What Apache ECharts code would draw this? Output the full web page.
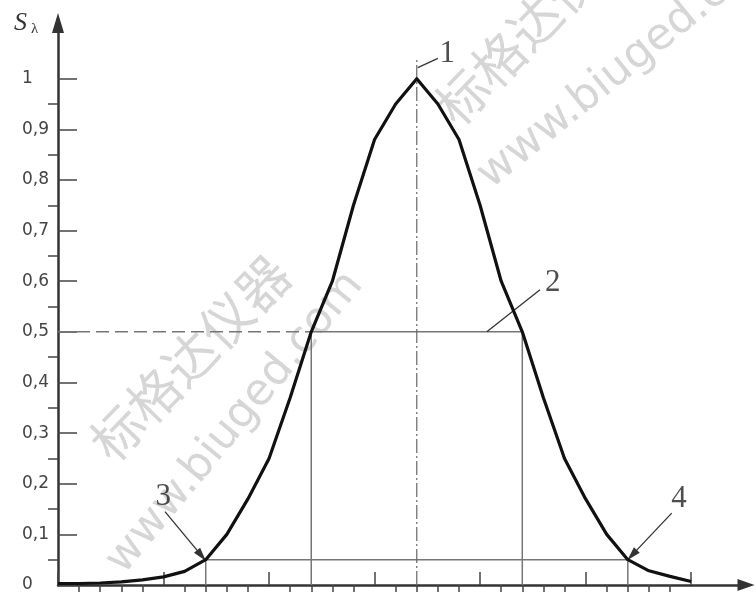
<!DOCTYPE html>
<html>
<head>
<meta charset="utf-8">
<script src="https://cdn.jsdelivr.net/npm/echarts@6/dist/echarts.min.js"></script>
<style>
html, body { margin: 0; padding: 0; background: #fff; }
#chart { width: 756px; height: 594px; }
</style>
</head>
<body>
<div id="chart"></div>
<script>
// relative spectral sensitivity S_lambda, one value per axis step
const steps = [0, 1, 2, 3, 4, 5, 6, 7, 8, 9, 10, 11, 12, 13, 14, 15, 16, 17, 18, 19, 20, 21, 22, 23, 24, 25, 26, 27, 28, 29, 30];
const sensitivity = [0.003, 0.003, 0.004, 0.006, 0.01, 0.016, 0.027, 0.05, 0.1, 0.17, 0.25, 0.37, 0.5, 0.6, 0.75, 0.88, 0.95, 1.0,
    0.95, 0.88, 0.75, 0.6, 0.5, 0.37, 0.25, 0.17, 0.1, 0.05, 0.028, 0.017, 0.007];

const yTickLabels = [0, 0.1, 0.2, 0.3, 0.4, 0.5, 0.6, 0.7, 0.8, 0.9, 1];
const yMinorTicks = [0.05, 0.15, 0.25, 0.35, 0.45, 0.55, 0.65, 0.75, 0.85, 0.95];
const xMajorTicks = [0, 5, 10, 15, 20, 25, 30];
const xMinorTicks = [1, 2, 3, 4, 6, 7, 8, 9, 11, 12, 13, 14, 16, 17, 18, 19, 21, 22, 23, 24, 26, 27, 28, 29];

// reference levels
const peakStep = 17;
const peakTop = 1.04;
const halfLevel = 0.5;
const halfSteps = [12, 22];
const baseLevel = 0.05;
const baseSteps = [7, 27];

const markerTexts = ['1', '2', '3', '4'];
const watermarkCn = '标格达仪器';
const watermarkUrl = 'www.biuged.com';

const curveData = steps.map((s, i) => [s, sensitivity[i]]);
const refColor = '#767676';

const chart = echarts.init(document.getElementById('chart'));

function tickAxis(values, len, showLine) {
    return {
        type: 'value', min: 0, max: 32.6,
        axisLine: showLine ? {
            show: true, onZero: false,
            symbol: ['none', 'triangle'], symbolSize: [12, 17],
            lineStyle: { color: '#333', width: 2.5 }
        } : { show: false },
        axisTick: { show: true, inside: true, length: len, customValues: values, lineStyle: { color: '#444', width: 1.5 } },
        axisLabel: { show: false },
        splitLine: { show: false }
    };
}

function markLabel(text, x, y) {
    return [x, y, text];
}

chart.setOption({
    animation: false,
    backgroundColor: '#fff',
    grid: { left: 58, right: 10, top: 23, bottom: 9, containLabel: false, outerBoundsMode: 'none' },
    xAxis: [tickAxis(xMajorTicks, 13, true), tickAxis(xMinorTicks, 7, false)],
    yAxis: [
        {
            type: 'value', min: 0, max: 1.11,
            axisLine: {
                show: true, onZero: false,
                symbol: ['none', 'triangle'], symbolSize: [12, 20],
                lineStyle: { color: '#333', width: 2.5 }
            },
            axisTick: { show: true, inside: true, length: 19, customValues: yTickLabels, lineStyle: { color: '#444', width: 1.5 } },
            axisLabel: {
                customValues: yTickLabels, align: 'left', margin: 36,
                fontFamily: 'DejaVu Sans', fontSize: 17, color: '#444',
                formatter: v => String(v).replace('.', ',')
            },
            splitLine: { show: false }
        },
        {
            type: 'value', min: 0, max: 1.11,
            axisLine: { show: false },
            axisTick: { show: true, inside: true, length: 10, customValues: yMinorTicks, lineStyle: { color: '#444', width: 1.5 } },
            axisLabel: { show: false },
            splitLine: { show: false }
        }
    ],
    graphic: [
        { type: 'text', x: 190, y: 358, rotation: 0.80, z: -1,
          style: { text: watermarkCn, font: '52px "Noto Sans CJK SC"', fill: '#d6d6d6', align: 'center', verticalAlign: 'middle' } },
        { type: 'text', x: 235, y: 423, rotation: 0.88, z: -1,
          style: { text: watermarkUrl, font: '44px "DejaVu Sans"', fill: '#d6d6d6', align: 'center', verticalAlign: 'middle' } },
        { type: 'text', x: 535, y: 22, rotation: 0.80, z: -1,
          style: { text: watermarkCn, font: '52px "Noto Sans CJK SC"', fill: '#d6d6d6', align: 'center', verticalAlign: 'middle' } },
        { type: 'text', x: 630, y: 62, rotation: 0.68, z: -1,
          style: { text: watermarkUrl, font: '44px "DejaVu Sans"', fill: '#d6d6d6', align: 'center', verticalAlign: 'middle' } },
        { type: 'text', x: 14, y: 10,
          style: { text: 'S', font: 'italic 26px "Liberation Serif"', fill: '#333' } },
        { type: 'text', x: 31, y: 22,
          style: { text: 'λ', font: '15px "Liberation Serif"', fill: '#333' } }
    ],
    series: [
        {
            name: 'half dashed', type: 'line', symbol: 'none', silent: true,
            data: [[0, halfLevel], [halfSteps[0], halfLevel]],
            lineStyle: { color: refColor, width: 1.5, type: [13, 6] }
        },
        {
            name: 'half width', type: 'line', symbol: 'none', silent: true,
            data: [[halfSteps[0], 0], [halfSteps[0], halfLevel], [halfSteps[1], halfLevel], [halfSteps[1], 0]],
            lineStyle: { color: refColor, width: 1.5 }
        },
        {
            name: 'base width', type: 'line', symbol: 'none', silent: true,
            data: [[baseSteps[0], 0], [baseSteps[0], baseLevel], [baseSteps[1], baseLevel], [baseSteps[1], 0]],
            lineStyle: { color: refColor, width: 1.5 }
        },
        {
            name: 'peak axis', type: 'line', symbol: 'none', silent: true,
            data: [[peakStep, 0], [peakStep, peakTop]],
            lineStyle: { color: '#666', width: 1.2, type: [14, 3, 2, 3] }
        },
        {
            name: 'S', type: 'line', symbol: 'none', silent: true, z: 5,
            data: curveData,
            lineStyle: { color: '#111', width: 3.2, join: 'round' },
            markLine: {
                silent: true, animation: false,
                label: { show: false },
                lineStyle: { color: '#333', width: 1.3, type: 'solid' },
                data: [
                    [{ coord: [17.05, 1.022], symbol: 'none' }, { coord: [18.0, 1.04], symbol: 'none' }],
                    [{ coord: [20.32, halfLevel], symbol: 'none' }, { coord: [22.84, 0.583], symbol: 'none' }],
                    [{ coord: [5.07, 0.145], symbol: 'none' }, { coord: [6.8, 0.058], symbol: 'triangle', symbolSize: [8, 14] }],
                    [{ coord: [29.08, 0.142], symbol: 'none' }, { coord: [27.2, 0.059], symbol: 'triangle', symbolSize: [8, 14] }]
                ]
            }
        },
        {
            name: 'markers', type: 'scatter', silent: true, symbolSize: 1, z: 6,
            itemStyle: { color: 'transparent' },
            data: [
                markLabel(markerTexts[0], 18.44, 1.049),
                markLabel(markerTexts[1], 23.44, 0.596),
                markLabel(markerTexts[2], 4.99, 0.174),
                markLabel(markerTexts[3], 29.43, 0.17)
            ],
            label: {
                show: true, position: 'inside',
                formatter: p => p.value[2],
                fontFamily: 'Liberation Serif', fontSize: 31, color: '#222'
            }
        }
    ]
});
</script>
</body>
</html>
